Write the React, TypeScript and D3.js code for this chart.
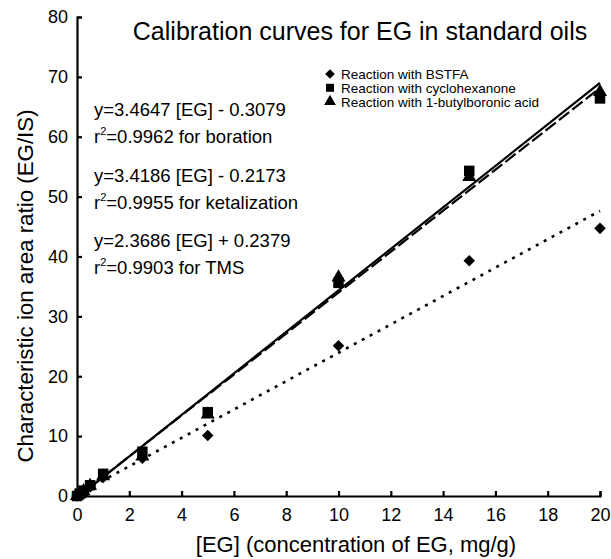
import React, {useEffect, useRef} from 'react';
import * as d3 from "d3";

const concentrations = [0, 0.1, 0.25, 0.5, 1, 2.5, 5, 10, 15, 20]
const bstfa = [0, 0.3, 0.7, 1.5, 3.1, 6.3, 10.1, 25.1, 39.3, 44.7]
const cyclohexanone = [0, 0.4, 0.9, 1.8, 3.7, 7.4, 14.0, 35.6, 54.3, 66.4]
const butylboronic = [0, 0.3, 0.8, 1.7, 3.3, 6.6, 13.6, 36.5, 53.3, 67.5]

const xTicks = [0, 2, 4, 6, 8, 10, 12, 14, 16, 18, 20]
const yTicks = [0, 10, 20, 30, 40, 50, 60, 70, 80]

const fits = [
    {slope: 3.4647, intercept: -0.3079, dash: null, width: 2.2},
    {slope: 3.4186, intercept: -0.2173, dash: '13,4', width: 2.2},
    {slope: 2.3686, intercept: 0.2379, dash: '3,6', width: 2.6},
]

const equations = [
    ['y=3.4647 [EG] - 0.3079', '=0.9962 for boration'],
    ['y=3.4186 [EG] - 0.2173', '=0.9955 for ketalization'],
    ['y=2.3686 [EG] + 0.2379', '=0.9903 for TMS'],
]

const legendItems = [
    {label: 'Reaction with BSTFA', symbol: 'diamond'},
    {label: 'Reaction with cyclohexanone', symbol: 'square'},
    {label: 'Reaction with 1-butylboronic acid', symbol: 'triangle'},
]

export default function App(){
    const width = 611
    const height = 559
    const margin = { top: 17, right: 11, bottom: 62, left: 77 }
    const font = 'Arial, "Liberation Sans", sans-serif'

    const d3svg = useRef(null);

    useEffect(() => {
        document.body.style.margin = '0'
        const svg = d3.select(d3svg.current)
        svg.selectAll('*').remove()

        const xScale = d3.scaleLinear().domain([0, 20]).range([margin.left, width - margin.right])
        const yScale = d3.scaleLinear().domain([0, 80]).range([height - margin.bottom - 1, margin.top])

        const g = svg.append('g').attr('font-family', font)

        // axes
        const xAxis = d3.axisBottom(xScale).tickValues(xTicks).tickSize(-5).tickPadding(12)
        g.append('g')
            .attr('transform', `translate(0,${yScale(0)})`)
            .call(xAxis)
            .call(a => a.selectAll('text').attr('font-size', 18).attr('font-family', font).attr('fill', '#000'))
            .call(a => a.selectAll('line,path').attr('stroke', '#000').attr('stroke-width', 2.2))
        const yAxis = d3.axisLeft(yScale).tickValues(yTicks).tickSize(-5).tickPadding(9)
        g.append('g')
            .attr('transform', `translate(${xScale(0)},0)`)
            .call(yAxis)
            .call(a => a.selectAll('text').attr('font-size', 18).attr('font-family', font).attr('fill', '#000'))
            .call(a => a.selectAll('line,path').attr('stroke', '#000').attr('stroke-width', 2.2))

        // fit lines
        const line = d3.line().x(d => xScale(d[0])).y(d => yScale(d[1]))
        fits.forEach(f => {
            g.append('path')
                .datum([[0, f.intercept], [20, f.slope * 20 + f.intercept]])
                .attr('fill', 'none')
                .attr('stroke', '#000')
                .attr('stroke-width', f.width)
                .attr('stroke-dasharray', f.dash)
                .attr('d', line)
        })

        // points
        const sym = {
            diamond: d3.symbol().type(d3.symbolDiamond2).size(85),
            square: d3.symbol().type(d3.symbolSquare).size(110),
            triangle: d3.symbol().type(d3.symbolTriangle).size(85),
        }
        const series = [
            {values: bstfa, symbol: 'diamond'},
            {values: butylboronic, symbol: 'triangle'},
            {values: cyclohexanone, symbol: 'square'},
        ]
        series.forEach(s => {
            g.append('g').selectAll('path')
                .data(s.values)
                .enter()
                .append('path')
                .attr('transform', (d, i) => `translate(${xScale(concentrations[i])},${yScale(d)})`)
                .attr('d', sym[s.symbol]())
                .attr('fill', '#000')
        })

        // title and labels
        g.append('text')
            .attr('x', 360).attr('y', 40)
            .attr('text-anchor', 'middle').attr('font-size', 25)
            .text('Calibration curves for EG in standard oils')
        g.append('text')
            .attr('x', 356).attr('y', 552)
            .attr('text-anchor', 'middle').attr('font-size', 22)
            .text('[EG] (concentration of EG, mg/g)')
        g.append('text')
            .attr('transform', 'translate(33,286) rotate(-90)')
            .attr('text-anchor', 'middle').attr('font-size', 22.3)
            .text('Characteristic ion area ratio (EG/IS)')

        // equations
        equations.forEach((eq, i) => {
            const y0 = 116 + i * 65.5
            g.append('text').attr('x', 94).attr('y', y0).attr('font-size', 18.5).text(eq[0])
            const t = g.append('text').attr('x', 94).attr('y', y0 + 27).attr('font-size', 18.5)
            t.append('tspan').text('r')
            t.append('tspan').attr('dy', -8).attr('font-size', 11).text('2')
            t.append('tspan').attr('dy', 8).text(eq[1])
        })

        // legend
        legendItems.forEach((item, i) => {
            const y0 = 74 + i * 13.8
            g.append('path')
                .attr('transform', `translate(330,${y0})`)
                .attr('d', d3.symbol().type(
                    item.symbol === 'diamond' ? d3.symbolDiamond2 :
                    item.symbol === 'square' ? d3.symbolSquare : d3.symbolTriangle
                ).size(item.symbol === 'square' ? 64 : 60)())
                .attr('fill', '#000')
            g.append('text')
                .attr('x', 341).attr('y', y0 + 5)
                .attr('font-size', 13.5)
                .text(item.label)
        })
    // eslint-disable-next-line react-hooks/exhaustive-deps
    }, [])

    return (
        <svg
            width={width}
            height={height}
            style={{display: 'block', background: '#fff'}}
            ref={d3svg}
        ></svg>
    )
}
